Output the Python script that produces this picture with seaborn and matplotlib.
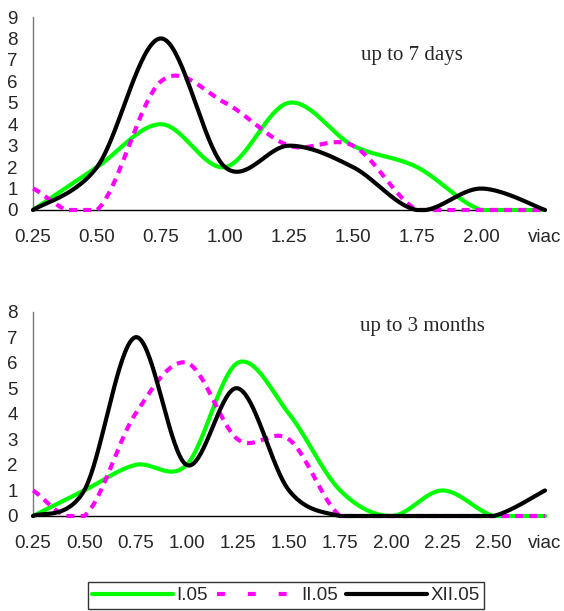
import numpy as np
import pandas as pd
import matplotlib
matplotlib.use("Agg")
import matplotlib.pyplot as plt
import seaborn as sns

# values
labels_top = ["0.25", "0.50", "0.75", "1.00", "1.25", "1.50", "1.75", "2.00", "viac"]
i05_top = [0, 2, 4, 2, 5, 3, 2, 0, 0]
ii05_top = [1, 0, 6, 5, 3, 3, 0, 0, 0]
xii05_top = [0, 2, 8, 2, 3, 2, 0, 1, 0]

labels_bot = ["0.25", "0.50", "0.75", "1.00", "1.25", "1.50", "1.75", "2.00", "2.25", "2.50", "viac"]
i05_bot = [0, 1, 2, 2, 6, 4, 1, 0, 1, 0, 0]
ii05_bot = [1, 0, 4, 6, 3, 3, 0, 0, 0, 0, 0]
xii05_bot = [0, 1, 7, 2, 5, 1, 0, 0, 0, 0, 1]

series_names = ["I.05", "II.05", "XII.05"]
colors = {"I.05": "#00FF00", "II.05": "#FF00FF", "XII.05": "#000000"}


def smooth(y, n=40):
    # Excel-like smoothed line (Catmull-Rom through the points)
    y = np.asarray(y, dtype=float)
    x = np.arange(len(y), dtype=float)
    px = np.r_[x[0], x, x[-1]]
    py = np.r_[y[0], y, y[-1]]
    xs, ys = [], []
    t = np.linspace(0, 1, n)
    for i in range(len(y) - 1):
        for p, out in ((px, xs), (py, ys)):
            p0, p1, p2, p3 = p[i], p[i + 1], p[i + 2], p[i + 3]
            c1 = p1 + (p2 - p0) / 6
            c2 = p2 - (p3 - p1) / 6
            b = ((1 - t) ** 3 * p1 + 3 * (1 - t) ** 2 * t * c1
                 + 3 * (1 - t) * t ** 2 * c2 + t ** 3 * p2)
            out.append(b)
    return np.concatenate(xs), np.maximum(np.concatenate(ys), 0)


sns.set_style("white")
plt.rcParams['font.family'] = ['Liberation Sans', 'DejaVu Sans']

fig = plt.figure(figsize=(5.64, 6.11), dpi=100)
ax1 = fig.add_axes([33 / 564, 1 - 210 / 611, 512 / 564, 193 / 611])
ax2 = fig.add_axes([33 / 564, 1 - 516 / 611, 512 / 564, 204.3 / 611])

panels = [
    (ax1, labels_top, [i05_top, ii05_top, xii05_top], 9, "up to 7 days", 0.74, 0.80),
    (ax2, labels_bot, [i05_bot, ii05_bot, xii05_bot], 8, "up to 3 months", 0.76, 0.93),
]

for ax, labels, vals, ymax, title, tx, ty in panels:
    for name, v in zip(series_names, vals):
        xs, ys = smooth(v)
        df = pd.DataFrame({"x": xs, "y": ys})
        sns.lineplot(data=df, x="x", y="y", ax=ax, color=colors[name],
                     lw=3, sort=False, clip_on=False, label=name,
                     linestyle=(0, (1.9, 1.5)) if name == "II.05" else "-",
                     zorder=3)
    ax.set_xlim(0, len(labels) - 1)
    ax.set_ylim(0, ymax)
    ax.set_xticks(range(len(labels)))
    ax.set_xticklabels(labels)
    ax.set_yticks(range(ymax + 1))
    ax.set_xlabel("")
    ax.set_ylabel("")
    ax.tick_params(axis="x", direction="inout", length=12, width=1,
                   color="#777777", labelsize=13.5, pad=8)
    ax.tick_params(axis="y", direction="inout", length=12, width=1,
                   color="#777777", labelsize=13.5, pad=5)
    for s in ["top", "right"]:
        ax.spines[s].set_visible(False)
    ax.spines["left"].set_color("#777777")
    ax.spines["bottom"].set_color("black")
    ax.spines["left"].set_linewidth(1)
    ax.spines["bottom"].set_linewidth(1)
    ax.text(tx, ty, title, transform=ax.transAxes, ha="center", va="center",
            fontsize=15, family=["Liberation Serif", "DejaVu Serif"])
    ax.get_legend().remove()

handles, lbls = ax1.get_legend_handles_labels()
leg = fig.legend(handles, lbls, loc="upper center", bbox_to_anchor=(0.507, 0.047),
                 ncol=3, frameon=True, fancybox=False, edgecolor="black",
                 fontsize=13.5, handlelength=4.3, handletextpad=0.2,
                 columnspacing=0.45, borderpad=0.25, borderaxespad=0)
leg.get_frame().set_linewidth(1)
leg.get_lines()[1].set_linestyle((0, (1.9, 5.5)))

fig.savefig("out.png", dpi=100)
